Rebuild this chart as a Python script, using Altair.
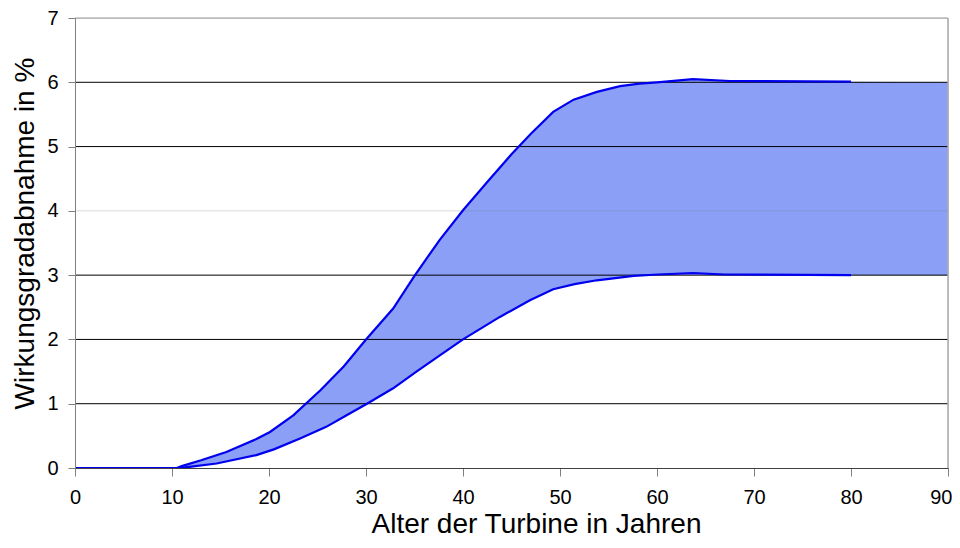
import altair as alt
import pandas as pd

# Upper edge of the band (age in years, efficiency loss in %)
upper_x = [0, 10.5, 11, 13, 15.6, 18.7, 20.1, 22.5, 25.3, 27.7, 30, 32.8, 35, 37.6, 40,
           42.5, 45, 47, 49.3, 51.4, 53.8, 56.2, 58.2, 60, 63.7, 67.5, 80]
upper_y = [0, 0, 0.03, 0.12, 0.25, 0.45, 0.56, 0.82, 1.21, 1.58, 2.0, 2.48, 2.99, 3.55, 4.01,
           4.45, 4.88, 5.2, 5.54, 5.73, 5.85, 5.94, 5.98, 6.0, 6.05, 6.02, 6.01]

# Lower edge of the band
lower_x = [0, 10.8, 12, 14.6, 18.7, 20.5, 23.2, 25.9, 28, 30.1, 32.8, 35.2, 37.5, 40,
           43.8, 46.9, 49.3, 51.5, 53.8, 57.6, 60.1, 63.7, 67, 80]
lower_y = [0, 0, 0.02, 0.07, 0.2, 0.29, 0.46, 0.64, 0.82, 1.0, 1.24, 1.5, 1.74, 2.0,
           2.35, 2.61, 2.78, 2.86, 2.92, 2.99, 3.01, 3.03, 3.01, 3.0]

# Fill continues to the right edge without an outline
band_end_x = [90]
band_end_upper = [6.0]
band_end_lower = [3.0]

x_ticks = [0, 10, 20, 30, 40, 50, 60, 70, 80, 90]
y_ticks = [0, 1, 2, 3, 4, 5, 6, 7]
grid_dark = [1, 2, 3, 5, 6]
grid_light = [4]
grid_top = [7]
right_edge = [90]

FONT = "Liberation Sans"

up_line = pd.DataFrame({"x": upper_x, "y": upper_y})
lo_line = pd.DataFrame({"x": lower_x, "y": lower_y})
up_area = pd.DataFrame({"x": upper_x + band_end_x, "y": upper_y + band_end_upper})
lo_area = pd.DataFrame({"x": lower_x + band_end_x, "y": lower_y + band_end_lower})

xscale = alt.Scale(domain=[0, 90], nice=False, zero=False)
yscale = alt.Scale(domain=[0, 7], nice=False)

xaxis = alt.Axis(
    values=x_ticks, title="Alter der Turbine in Jahren", grid=False, format="d",
    tickSize=8, tickColor="#808080", domainColor="#404040",
    labelFont=FONT, labelFontSize=20, labelColor="black", labelPadding=11,
    labelAlign={"condition": {"test": "datum.value == 90", "value": "right"}, "value": "center"},
    labelOffset={"condition": {"test": "datum.value == 90", "value": 4}, "value": 0},
    titleFont=FONT, titleFontSize=28, titleFontWeight="normal", titleColor="black",
    titleX=461, titleY=64, titleBaseline="alphabetic", titleAlign="center",
    zindex=1,
)
yaxis = alt.Axis(
    values=y_ticks, title="Wirkungsgradabnahme in %", grid=False, format="d",
    tickSize=7, tickColor="#808080", domainColor="#808080",
    labelFont=FONT, labelFontSize=20, labelColor="black", labelPadding=10,
    titleFont=FONT, titleFontSize=28, titleFontWeight="normal", titleColor="black",
    titleAngle=270, titleX=-42, titleY=215, titleBaseline="alphabetic", titleAlign="center",
    zindex=1,
)

area_up = alt.Chart(up_area).mark_area(color="#8b9ff6", interpolate="linear").encode(
    x=alt.X("x:Q", scale=xscale, axis=xaxis),
    y=alt.Y("y:Q", scale=yscale, axis=yaxis),
)
area_lo = alt.Chart(lo_area).mark_area(color="white", interpolate="linear").encode(
    x=alt.X("x:Q", scale=xscale),
    y=alt.Y("y:Q", scale=yscale),
)

g_dark = alt.Chart(pd.DataFrame({"y": grid_dark})).mark_rule(color="black", strokeWidth=1).encode(
    y=alt.Y("y:Q", scale=yscale)
)
g_light = alt.Chart(pd.DataFrame({"y": grid_light})).mark_rule(color="#808080", opacity=0.3, strokeWidth=1).encode(
    y=alt.Y("y:Q", scale=yscale)
)
g_top = alt.Chart(pd.DataFrame({"y": grid_top})).mark_rule(color="#999999", strokeWidth=1).encode(
    y=alt.Y("y:Q", scale=yscale)
)
r_edge = alt.Chart(pd.DataFrame({"x": right_edge})).mark_rule(color="#aaaaaa", strokeWidth=1.5).encode(
    x=alt.X("x:Q", scale=xscale)
)

line_up = alt.Chart(up_line).mark_line(color="#0000ee", strokeWidth=2.2).encode(
    x=alt.X("x:Q", scale=xscale),
    y=alt.Y("y:Q", scale=yscale),
)
line_lo = alt.Chart(lo_line).mark_line(color="#0000ee", strokeWidth=2.2).encode(
    x=alt.X("x:Q", scale=xscale),
    y=alt.Y("y:Q", scale=yscale),
)

chart = alt.layer(
    area_up, area_lo, g_dark, g_light, g_top, r_edge, line_up, line_lo
).properties(
    width=873, height=450,
    autosize=alt.AutoSizeParams(type="none"),
    padding={"left": 67, "top": 10, "right": 4, "bottom": 72},
).configure_view(stroke=None).configure(background="white")

chart.save("out.html", embed_options={"renderer": "svg", "actions": False})
